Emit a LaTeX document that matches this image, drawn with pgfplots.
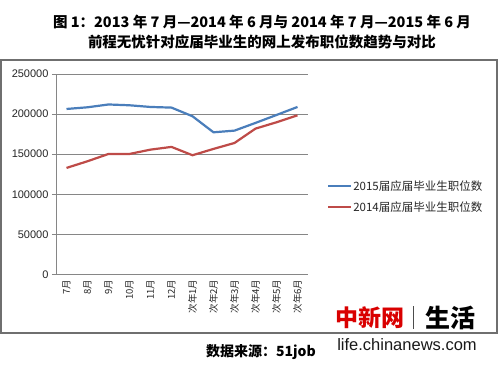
\documentclass[border=0pt]{standalone}
\usepackage{pgfplots}
\pgfplotsset{compat=1.18}
\usepackage{fontspec}
\setmainfont{Noto Sans CJK SC}
\newfontfamily\libsans{Liberation Sans}
\definecolor{blueS}{HTML}{4A7EBB}
\definecolor{redS}{HTML}{BE4B48}
\definecolor{gridc}{HTML}{868686}
\definecolor{framec}{HTML}{6F6F6F}
\begin{document}
\begin{tikzpicture}
\fill[white] (0pt,0pt) rectangle (499pt,367pt);
\draw[framec, line width=1.5pt] (1pt,34pt) rectangle (497pt,307pt);
\node[font=\fontsize{14.5}{15}\selectfont\bfseries] at (262pt,345.5pt) {图 1：2013 年 7 月—2014 年 6 月与 2014 年 7 月—2015 年 6 月};
\node[font=\fontsize{14.5}{15}\selectfont\bfseries] at (262pt,325pt) {前程无忧针对应届毕业生的网上发布职位数趋势与对比};
\begin{axis}[
  at={(56pt,92.5pt)}, anchor=south west,
  scale only axis, width=252pt, height=200.5pt,
  xmin=-0.5, xmax=11.5, ymin=0, ymax=250000,
  ytick={0,50000,100000,150000,200000,250000},
  yticklabels={0,50000,100000,150000,200000,250000},
  scaled y ticks=false,
  yticklabel style={font=\libsans\fontsize{11}{11}\selectfont, text=black!85},
  xtick={0,...,11},
  xticklabels={7月,8月,9月,10月,11月,12月,次年1月,次年2月,次年3月,次年4月,次年5月,次年6月},
  xticklabel style={rotate=90, anchor=east, font=\fontsize{9.5}{10}\selectfont, inner sep=1pt, text=black!85},
  xtick style={draw=none},
  minor xtick={-0.5,0.5,...,11.5},
  minor tick length=4pt,
  major tick length=4pt,
  tick align=outside,
  tick style={gridc, line width=0.6pt},
  axis lines*=left,
  axis line style={gridc, line width=0.6pt},
  ymajorgrids, grid style={gridc, line width=0.6pt},
  legend style={at={(1.075,0.475)}, anchor=north west, draw=none, fill=none,
    font=\fontsize{11.5}{12}\selectfont, inner sep=0pt, row sep=8pt,
    nodes={inner sep=1pt, text=black!85}},
  legend cell align=left,
  legend image code/.code={\draw[#1] (0pt,0pt) -- (23pt,0pt);},
  clip=false,
]
\addplot[blueS, line width=2.2pt] coordinates {
(0,206400) (1,208500) (2,212000) (3,211000) (4,208900) (5,208100)
(6,197300) (7,177300) (8,179400) (9,189000) (10,198900) (11,208900)};
\addlegendentry{2015届应届毕业生职位数}
\addplot[redS, line width=2.2pt] coordinates {
(0,132900) (1,141200) (2,150300) (3,150300) (4,155700) (5,159100)
(6,148700) (7,156600) (8,164000) (9,181900) (10,189800) (11,198500)};
\addlegendentry{2014届应届毕业生职位数}
\end{axis}
\node[font=\fontsize{23}{24}\selectfont\bfseries, text=red!85!black, inner sep=0] at (370pt,49pt) {中新网};
\draw[gray!60!black, line width=1pt] (413pt,38pt) -- (413pt,61pt);
\node[font=\fontsize{25}{26}\selectfont\bfseries, inner sep=0] at (450pt,49pt) {生活};
\node[font=\libsans\fontsize{16.5}{17}\selectfont, text=black!90, inner sep=0] at (407pt,22pt) {life.chinanews.com};
\node[font=\fontsize{14}{15}\selectfont\bfseries, inner sep=0] at (261pt,15pt) {数据来源：51job};
\end{tikzpicture}
\end{document}
